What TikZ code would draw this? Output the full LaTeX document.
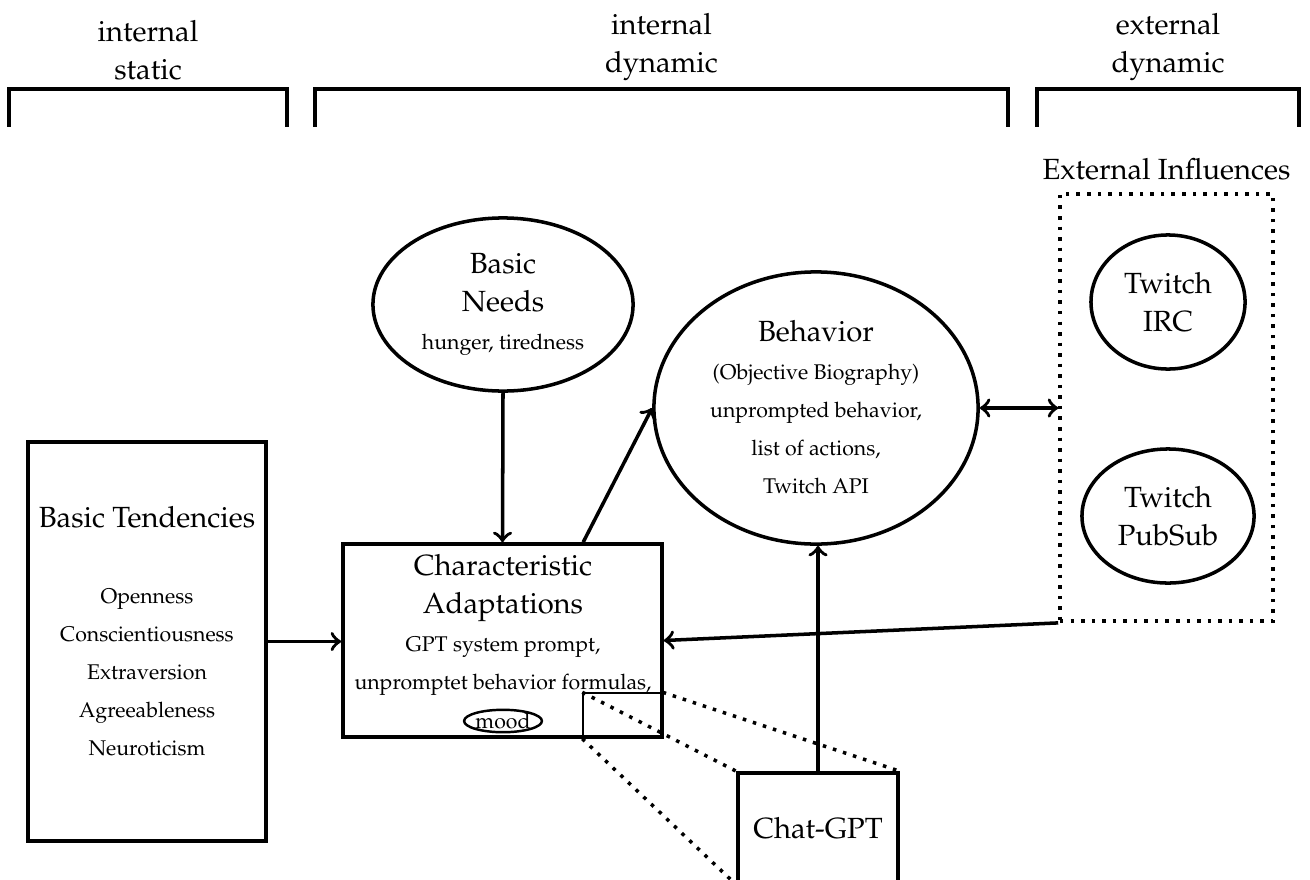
\documentclass[tikz,border=0pt]{standalone}
\usepackage[T1]{fontenc}
\usepackage{mathpazo}
\usetikzlibrary{shapes.geometric,calc}

\newcommand{\bigtxt}{\fontsize{8.3}{10.8}\selectfont}
\newcommand{\smalltxt}{\fontsize{6.05}{10.8}\selectfont}

\begin{document}
\begin{tikzpicture}[x=0.01cm,y=-0.01cm,
  box/.style={draw,line width=1pt,inner sep=0pt},
  ell/.style={draw,line width=1pt,ellipse,inner sep=0pt},
  txt/.style={align=center,inner sep=0pt,font=\bigtxt},
  head/.style={above,align=center,font=\bigtxt},
  arr/.style={line width=1pt,->},
  zoomline/.style={line width=1pt,dotted}]
\useasboundingbox (0,0) rectangle (1310,879);

% brackets on top
\draw[line width=1pt] (9,127) -- (9,89) -- (287,89) -- (287,127);
\draw[line width=1pt] (315,127) -- (315,89) -- (1008,89) -- (1008,127);
\draw[line width=1pt] (1037,127) -- (1037,89) -- (1299,89) -- (1299,127);
\node[head] (intstat) at (148,93) {internal\\static};
\node[head] (intdyn) at (661.5,93) {internal\\dynamic};
\node[head] (extdyn) at (1168,93) {external\\dynamic};

\node[box,minimum width=2.38cm,minimum height=3.99cm] (bt) at (147,641.5) {};
\node[txt] (bttext) at (147,631) {Basic Tendencies\\[10.8pt]{\smalltxt Openness}\\{\smalltxt Conscientiousness}\\{\smalltxt Extraversion}\\{\smalltxt Agreeableness}\\{\smalltxt Neuroticism}};

\node[ell,minimum width=2.6cm,minimum height=1.73cm,align=center,font=\bigtxt] (bn) at (503,304.5) {Basic\\Needs\\{\smalltxt hunger, tiredness}};

\node[box,minimum width=3.19cm,minimum height=1.93cm] (ca) at (502.5,640.5) {};
\node[txt] (catext) at (503,625) {Characteristic\\Adaptations\\{\smalltxt GPT system prompt,}\\{\smalltxt unpromptet behavior formulas,}};
\node[ell,line width=0.7pt,font=\smalltxt] (mood) at (503,721) {mood};
\node[draw,thin,inner sep=0pt,minimum width=0.79cm,minimum height=0.45cm] (spot) at (622.5,715.5) {};

\node[ell,minimum width=3.24cm,minimum height=2.72cm] (beh) at (816,408) {};
\node[txt] (behtext) at (816,407.5) {Behavior\\{\smalltxt (Objective Biography)}\\{\smalltxt unprompted behavior,}\\{\smalltxt list of actions,}\\{\smalltxt Twitch API}};

\node[draw,line width=1pt,dotted,inner sep=0pt,minimum width=2.13cm,minimum height=4.27cm,
  label={[name=extlabel,font=\bigtxt]above:External Influences}] (ext) at (1166.5,407.5) {};
\node[ell,minimum width=1.54cm,minimum height=1.34cm,align=center,font=\bigtxt] (irc) at (1168,302) {Twitch\\IRC};
\node[ell,minimum width=1.72cm,minimum height=1.34cm,align=center,font=\bigtxt] (pubsub) at (1168,516) {Twitch\\PubSub};

\node[box,fill=white,minimum width=1.6cm,minimum height=1.1cm,font=\bigtxt] (chat) at (818,828) {Chat-GPT};
\draw[zoomline] (spot.north west) -- (chat.north west);
\draw[zoomline] (spot.north east) -- (chat.north east);
\draw[zoomline] (spot.south west) -- (chat.south west);

\draw[arr] (bt.east) -- (bt.east -| ca.west);
\draw[arr] (bn.south) -- (ca.north);
\draw[arr] ($(ca.north)!.5!(ca.north east)$) -- (beh.west);
\draw[arr] (chat.north) -- (chat.north |- beh.south);
\draw[line width=1pt,<->] (beh.east) -- (beh.east -| ext.west);
\draw[arr] (ext.south west) -- (ca.east);
\end{tikzpicture}
\end{document}
